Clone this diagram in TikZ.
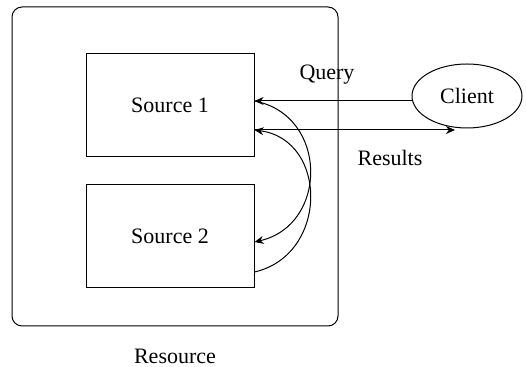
\documentclass[tikz,border=0pt]{standalone}
\usepackage{fontspec}
\setmainfont{Liberation Serif}
\usetikzlibrary{positioning,arrows.meta,shapes.geometric,calc}

\begin{document}
\begin{tikzpicture}[
      x=0.5pt,y=-0.5pt,
      >={Stealth[length=1.6mm,width=1.4mm]},
      font=\fontsize{11}{13}\selectfont,
      frame/.style={draw=black,line width=0.5pt,rounded corners=5pt,
        minimum width=163pt,minimum height=159.5pt,inner sep=0pt},
      src/.style={draw=black,line width=0.5pt,minimum width=84pt,
        minimum height=51.5pt,inner sep=0pt},
      client/.style={draw=black,line width=0.5pt,ellipse,
        minimum width=55pt,minimum height=32pt,inner sep=0pt},
      msg/.style={line width=0.5pt,->}
    ]
    \useasboundingbox (0,0) rectangle (526,367);
    % the resource and its two sources
    \node[frame] (res) at (175,166.5) {};
    \node[src] (s1) at (170,105.5) {Source 1};
    \node[src] (s2) at (170,236.5) {Source 2};
    \node[below=8pt of res] (reslbl) {Resource};
    % the client outside
    \node[client] (cl) at (467,96) {Client};
    % points where the messages meet the boxes
    \coordinate (qin) at ([yshift=2.25pt]s1.east);
    \coordinate (rout) at ([yshift=-12.25pt]s1.east);
    \coordinate (s2in) at ([yshift=-2.75pt]s2.east);
    \coordinate (s2out) at ([yshift=-17.75pt]s2.east);
    \coordinate (rend) at ([xshift=-6pt]cl.south);
    % query and results
    \draw[msg] (cl.west |- qin) -- (qin);
    \draw[msg] (rout) -- (rout -| rend);
    \node (q) at (327,75) {Query};
    \node (r) at (390,158) {Results};
    % forwarding between the sources
    \draw[msg] (qin) .. controls ($(qin)+(74,14)$) and ($(s2in)+(74,-17)$) .. (s2in);
    \draw[msg] (s2out) .. controls ($(s2out)+(74,-17)$) and ($(rout)+(74,10)$) .. (rout);
  \end{tikzpicture}
\end{document}
